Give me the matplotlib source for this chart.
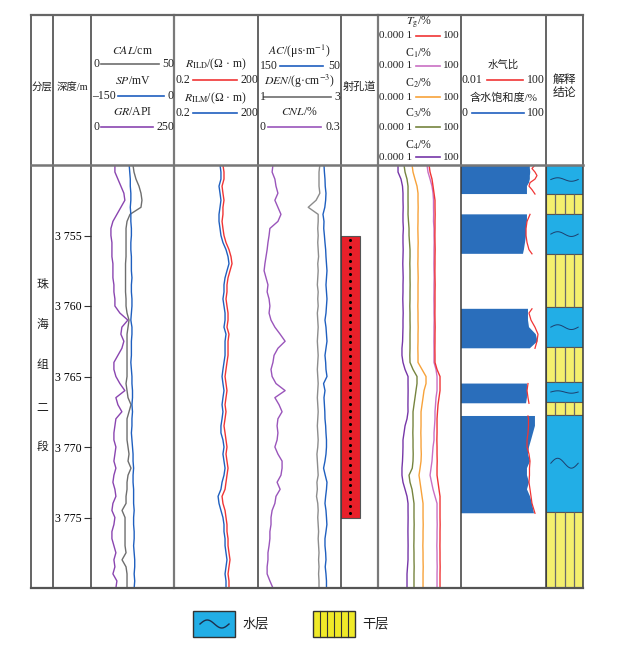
import numpy as np
import matplotlib.pyplot as plt
from matplotlib.patches import Rectangle

plt.rcParams['font.family'] = ['Liberation Serif', 'Noto Sans CJK SC']
plt.rcParams['mathtext.fontset'] = 'stix'

# ---- data (log curves sampled every 0.5 m, 3750-3780 m) ----
cal = [25.3, 25.9, 27.1, 28.9, 30.1, 30.7, 30.1, 23.5, 21.7, 21.1,
       21.1, 21.1, 21.1, 21.1, 20.8, 20.8, 20.8, 20.8, 20.8, 21.1,
       21.1, 21.7, 22.9, 22.3, 21.7, 21.7, 21.7, 21.7, 21.7, 21.7,
       21.7, 21.1, 21.7, 22.3, 24.1, 22.9, 21.7, 21.7, 21.7, 21.7,
       22.3, 22.9, 22.3, 24.1, 22.3, 21.7, 21.7, 21.1, 21.1, 18.7,
       20.5, 20.5, 20.5, 20.5, 20.5, 21.1, 18.7, 21.1, 21.7, 21.7, 21.7]
sp = [-81, -80, -79, -79, -78, -78, -79, -78, -78, -77,
      -77, -78, -78, -77, -77, -77, -76, -77, -77, -76,
      -76, -77, -78, -76, -76, -77, -77, -77, -78, -77,
      -76, -76, -75, -75, -76, -75, -76, -76, -77, -76,
      -75, -74, -74, -73, -74, -74, -73, -73, -73, -72,
      -73, -73, -72, -72, -73, -72, -71, -71, -72, -71, -72]
gr = [72, 72, 81, 90, 99, 102, 90, 78, 66, 60,
      60, 63, 63, 63, 66, 66, 66, 69, 69, 72,
      72, 87, 111, 93, 90, 99, 93, 81, 69, 69,
      75, 87, 102, 75, 81, 93, 75, 72, 69, 69,
      75, 72, 69, 75, 69, 66, 72, 75, 66, 63,
      72, 69, 63, 63, 69, 75, 69, 72, 66, 78, 75]
rlld = [11.2, 12.2, 12.2, 10.4, 11.2, 12.2, 11.2, 11.2, 10.4, 11.2,
        12.2, 14.4, 18.4, 21.7, 23.6, 20.0, 17.0, 15.6, 15.6, 14.4,
        15.6, 17.0, 17.0, 15.6, 18.4, 17.0, 17.0, 17.0, 15.6, 14.4,
        13.3, 14.4, 15.6, 14.4, 13.3, 14.4, 13.3, 12.2, 13.3, 14.4,
        15.6, 14.4, 15.6, 17.0, 15.6, 14.4, 13.3, 10.4, 11.2, 13.3,
        14.4, 15.6, 15.6, 17.0, 17.0, 18.4, 20.0, 18.4, 17.0, 18.4, 18.4]
rllm = [8.8, 9.5, 9.5, 8.1, 8.8, 9.5, 8.8, 8.1, 8.1, 8.8,
        9.5, 11.2, 14.4, 17.0, 18.4, 15.6, 13.3, 12.2, 12.2, 11.2,
        12.2, 13.3, 13.3, 12.2, 14.4, 13.3, 13.3, 13.3, 12.2, 11.2,
        10.4, 11.2, 12.2, 11.2, 10.4, 11.2, 10.4, 9.5, 9.5, 11.2,
        12.2, 11.2, 12.2, 13.3, 12.2, 10.4, 9.5, 7.5, 8.1, 9.5,
        11.2, 12.2, 12.2, 13.3, 13.3, 14.4, 15.6, 14.4, 13.3, 14.4, 14.4]
ac = [70.5, 70.0, 69.3, 69.0, 68.1, 68.5, 69.5, 71.7, 70.5, 70.8,
      70.0, 69.3, 68.5, 68.1, 67.5, 66.9, 67.5, 68.1, 67.5, 66.9,
      67.5, 68.1, 69.3, 68.1, 67.5, 66.9, 68.1, 69.3, 68.5, 68.1,
      66.9, 71.0, 69.3, 70.5, 70.0, 69.5, 69.3, 68.5, 68.1, 67.5,
      67.5, 68.1, 69.3, 71.0, 69.0, 66.9, 67.5, 68.5, 69.3, 68.1,
      67.5, 67.0, 68.1, 69.3, 69.3, 68.5, 68.1, 69.0, 68.1, 67.5, 67.5]
den = [2.49, 2.47, 2.47, 2.47, 2.49, 2.40, 2.21, 2.45, 2.45, 2.44,
       2.45, 2.44, 2.45, 2.46, 2.44, 2.45, 2.44, 2.43, 2.45, 2.44,
       2.45, 2.43, 2.44, 2.45, 2.44, 2.43, 2.44, 2.45, 2.44, 2.43,
       2.44, 2.45, 2.44, 2.43, 2.44, 2.45, 2.44, 2.43, 2.44, 2.45,
       2.44, 2.42, 2.43, 2.44, 2.45, 2.42, 2.43, 2.41, 2.44, 2.45,
       2.44, 2.45, 2.46, 2.45, 2.46, 2.47, 2.46, 2.47, 2.46, 2.47, 2.47]
cnl = [0.054, 0.051, 0.061, 0.065, 0.072, 0.061, 0.072, 0.083, 0.072, 0.043,
       0.040, 0.036, 0.033, 0.029, 0.025, 0.022, 0.029, 0.036, 0.033, 0.040,
       0.043, 0.040, 0.047, 0.061, 0.080, 0.098, 0.072, 0.058, 0.054, 0.047,
       0.051, 0.065, 0.098, 0.061, 0.076, 0.087, 0.072, 0.069, 0.072, 0.069,
       0.061, 0.072, 0.087, 0.087, 0.083, 0.069, 0.080, 0.065, 0.061, 0.051,
       0.047, 0.047, 0.043, 0.043, 0.040, 0.036, 0.036, 0.033, 0.033, 0.043, 0.054]
tg = [0.49, 0.58, 0.80, 0.95, 1.12, 1.32, 1.32, 1.35, 1.32, 1.32,
      1.30, 1.32, 1.35, 1.32, 1.32, 1.30, 1.32, 1.35, 1.32, 1.32,
      1.32, 1.30, 1.32, 1.35, 1.32, 1.32, 1.30, 1.32, 1.32, 1.85,
      3.04, 3.04, 3.04, 2.57, 2.18, 2.00, 1.85, 1.85, 1.85, 1.80,
      1.85, 1.85, 1.90, 1.85, 1.85, 2.18, 2.57, 3.04, 3.04, 3.04,
      3.04, 3.10, 3.04, 3.04, 3.00, 3.04, 3.04, 3.10, 3.04, 3.04, 3.04]
c1 = [0.35, 0.41, 0.58, 0.80, 0.95, 1.03, 1.03, 1.05, 1.03, 1.12,
      1.12, 1.15, 1.12, 1.12, 1.10, 1.12, 1.15, 1.12, 1.12, 1.10,
      1.12, 1.12, 1.15, 1.12, 1.12, 1.10, 1.12, 1.12, 1.12, 1.56,
      1.85, 1.85, 1.85, 1.56, 1.44, 1.32, 1.32, 1.22, 1.12, 1.12,
      0.95, 0.87, 0.80, 0.68, 0.58, 0.74, 0.95, 1.32, 1.85, 1.85,
      1.85, 1.90, 1.85, 1.85, 1.80, 1.85, 1.85, 1.90, 1.85, 1.85, 1.85]
c2 = [0.029, 0.034, 0.047, 0.066, 0.078, 0.078, 0.080, 0.078, 0.078, 0.076,
      0.078, 0.080, 0.078, 0.078, 0.076, 0.078, 0.080, 0.078, 0.078, 0.078,
      0.076, 0.078, 0.078, 0.080, 0.078, 0.078, 0.076, 0.078, 0.078, 0.152,
      0.296, 0.296, 0.212, 0.180, 0.152, 0.129, 0.129, 0.129, 0.125, 0.129,
      0.129, 0.135, 0.129, 0.110, 0.092, 0.109, 0.129, 0.152, 0.180, 0.180,
      0.180, 0.185, 0.180, 0.180, 0.175, 0.180, 0.180, 0.185, 0.180, 0.180, 0.180]
c3 = [0.0076, 0.0090, 0.0125, 0.0148, 0.0148, 0.0148, 0.0150, 0.0148, 0.0160, 0.0175,
      0.0175, 0.0190, 0.0206, 0.0206, 0.0200, 0.0206, 0.0206, 0.0210, 0.0206, 0.0206,
      0.0200, 0.0206, 0.0206, 0.0210, 0.0206, 0.0206, 0.0206, 0.0200, 0.0206, 0.0340,
      0.0660, 0.0660, 0.0557, 0.0473, 0.0400, 0.0340, 0.0340, 0.0340, 0.0330, 0.0340,
      0.0340, 0.0350, 0.0340, 0.0300, 0.0175, 0.0206, 0.0287, 0.0340, 0.0400, 0.0400,
      0.0400, 0.0410, 0.0400, 0.0400, 0.0390, 0.0400, 0.0400, 0.0410, 0.0400, 0.0400, 0.0400]
c4 = [0.0028, 0.0028, 0.0046, 0.0059, 0.0064, 0.0064, 0.0066, 0.0064, 0.0064, 0.0068,
      0.0064, 0.0064, 0.0066, 0.0064, 0.0062, 0.0064, 0.0066, 0.0064, 0.0064, 0.0062,
      0.0064, 0.0066, 0.0064, 0.0064, 0.0062, 0.0060, 0.0054, 0.0054, 0.0064, 0.0090,
      0.0148, 0.0148, 0.0150, 0.0148, 0.0146, 0.0148, 0.0125, 0.0090, 0.0076, 0.0064,
      0.0064, 0.0062, 0.0059, 0.0054, 0.0054, 0.0064, 0.0090, 0.0125, 0.0148, 0.0148,
      0.0150, 0.0148, 0.0146, 0.0148, 0.0150, 0.0148, 0.0148, 0.0136, 0.0125, 0.0125, 0.0125]

nan = np.nan
sw_depth = [3750.0, 3750.25, 3750.5, 3750.75, 3751.0, 3751.25, 3751.5, 3751.75, 3752.06, nan,
            3753.5, 3754.0, 3754.5, 3755.0, 3755.5, 3756.0, 3756.3, nan,
            3760.2, 3760.5, 3761.0, 3761.5, 3762.0, 3762.5, 3763.0, nan,
            3765.5, 3766.0, 3766.5, 3766.9, nan,
            3767.8, 3768.0, 3768.5, 3769.0, 3769.5, 3770.0, 3770.5, 3771.0, 3771.5,
            3772.0, 3772.5, 3773.0, 3773.5, 3774.0, 3774.7]
sw = [81, 81, 81.5, 81, 81, 80, 77.6, 77.6, 77.6, nan,
      77.6, 77.6, 76.5, 76.5, 75.3, 74, 72.9, nan,
      78.8, 78.8, 78.8, 80, 88, 90, 81, nan,
      77.6, 77.6, 77.6, 76.5, nan,
      87, 87, 87, 84.7, 82.4, 80, 78.8, 81.2, 77.6, 77.6, 80, 77.6, 81.2, 83.5, 85.9]
wg_ratio = [30.3, 21.9, 30.3, 37.7, 30.3, 17.7, 15.8, 21.9, 30.3, nan,
            17.7, 12.8, 11.5, 11.5, 12.8, 15.8, 21.9, nan,
            21.9, 15.8, 19.7, 30.3, 42, 37.7, 30.3, nan,
            14.2, 12.8, 14.2, 15.8, nan,
            14.2, 15.0, 15.0, 14.2, 12.8, 12.8, 15.8, 17.7, 16.7, 16.7, 15.8, 17.7, 19.7, 21.9, 30.3]

layer_top = [3750, 3752.06, 3753.5, 3756.3, 3760.1, 3762.9, 3765.4, 3766.8, 3767.7, 3774.6]
layer_bot = [3752.06, 3753.5, 3756.3, 3760.1, 3762.9, 3765.4, 3766.8, 3767.7, 3774.6, 3780]
layer_kind = ['水层', '干层', '水层', '干层', '水层', '干层', '水层', '干层', '水层', '干层']

perf_top, perf_bot = 3755, 3775
depth_ticks = [3755, 3760, 3765, 3770, 3775]
strata = ['珠', '海', '组', '二', '段']
strata_depth = [3758.5, 3761.35, 3764.2, 3767.25, 3770.0]

# colours
C_CAL, C_SP, C_GR = '#6e6e6e', '#1f5fbf', '#8a45b0'
C_RD, C_RM = '#f03535', '#1f5fbf'
C_AC, C_DEN, C_CNL = '#1f5fbf', '#8c8c8c', '#9a55bb'
C_TG, C_C1, C_C2, C_C3, C_C4 = '#f03535', '#c96fc4', '#f7a23a', '#76843e', '#7636a8'
WATER, DRY, SWBLUE = '#22aee6', '#f4ef6e', '#2a6ebb'

# ---- layout (pixels) ----
W, H = 618, 651
TOP, BOT = 3750, 3780
Y0, Y1 = 165, 588
HT = 15
cols = [31, 53, 91, 174, 258, 341, 378, 461, 546, 583]

fig = plt.figure(figsize=(W / 100, H / 100), dpi=100)


def track(x0, x1, xlim=(0, 1), log=False):
    ax = fig.add_axes([x0 / W, 1 - Y1 / H, (x1 - x0) / W, (Y1 - Y0) / H])
    if log:
        ax.set_xscale('log')
    ax.set_xlim(*xlim)
    ax.set_ylim(BOT, TOP)
    ax.patch.set_alpha(0)
    ax.axis('off')
    return ax


lw = 1.0
# track 1: CAL, SP, GR + depth ticks
d = np.linspace(TOP, BOT, len(gr))
ax = fig.add_axes([91 / W, 1 - Y1 / H, 83 / W, (Y1 - Y0) / H])
ax.set_ylim(BOT, TOP)
ax.set_xlim(0, 50)
ax.plot(cal, np.linspace(TOP, BOT, len(cal)), color=C_CAL, lw=lw)
ax.patch.set_alpha(0)
for s in ax.spines.values():
    s.set_visible(False)
ax.set_xticks([])
ax.set_yticks(depth_ticks)
ax.set_yticklabels([f'{t // 1000} {t % 1000}' for t in depth_ticks])
ax.tick_params(axis='y', direction='out', length=5, width=0.8, pad=2,
               labelsize=8.5, color='#333333')
track(91, 174, (-150, 0)).plot(sp, np.linspace(TOP, BOT, len(sp)), color=C_SP, lw=lw)
track(91, 174, (0, 250)).plot(gr, d, color=C_GR, lw=lw)

# track 2: resistivity
track(174, 258, (0.2, 200), log=True).plot(rllm, np.linspace(TOP, BOT, len(rllm)), color=C_RM, lw=lw)
track(174, 258, (0.2, 200), log=True).plot(rlld, np.linspace(TOP, BOT, len(rlld)), color=C_RD, lw=lw)

# track 3: porosity
track(258, 341, (0, 0.3)).plot(cnl, np.linspace(TOP, BOT, len(cnl)), color=C_CNL, lw=lw)
track(258, 341, (1, 3)).plot(den, np.linspace(TOP, BOT, len(den)), color=C_DEN, lw=lw)
track(258, 341, (150, 50)).plot(ac, np.linspace(TOP, BOT, len(ac)), color=C_AC, lw=lw)

# track 4: perforation
ax = track(341, 378)
ax.barh((perf_top + perf_bot) / 2, 0.51, height=perf_bot - perf_top, left=0,
        color='#e8202a', edgecolor='#555555', lw=0.8)
ax.plot(np.full(41, 0.25), np.linspace(perf_top + 0.35, perf_bot - 0.35, 41),
        'o', color='black', ms=2.2, mew=0)

# track 5: gas
for vals, c in [(c4, C_C4), (c3, C_C3), (c2, C_C2), (c1, C_C1), (tg, C_TG)]:
    track(378, 461, (1e-4, 100), log=True).plot(vals, np.linspace(TOP, BOT, len(vals)), color=c, lw=lw)

# track 6: water saturation and water/gas ratio
ax = track(461, 546, (0, 100))
ax.fill_betweenx(sw_depth, 0, sw, color=SWBLUE, lw=0)
track(461, 546, (0.01, 100), log=True).plot(wg_ratio, sw_depth, color='#f03535', lw=0.9)

# track 7: conclusion
ax = track(546, 583)
for t, b, k in zip(layer_top, layer_bot, layer_kind):
    ax.barh((t + b) / 2, 1, height=b - t, left=0, color=WATER if k == '水层' else DRY,
            edgecolor='#555555', lw=0.8)
    if k == '干层':
        ax.vlines([0.25, 0.5, 0.75], t, b, color='#6a6a6a', lw=0.9)
    else:
        tt = np.linspace(0, 2 * np.pi, 60)
        amp = min((b - t) * 0.06, 0.35)
        ax.plot(0.13 + 0.74 * tt / (2 * np.pi), (t + b) / 2 - amp * np.sin(tt),
                color='#1d3f6e', lw=0.7)

# strata column text
ax = track(31, 53)
for s, dd in zip(strata, strata_depth):
    ax.text(0.5, dd, s, ha='center', va='center', fontsize=8.5, color='#222222')

# ---- overlay: table, header, legend ----
ov = fig.add_axes([0, 0, 1, 1])
ov.set_xlim(0, W)
ov.set_ylim(H, 0)
ov.axis('off')
ov.patch.set_alpha(0)
ov.set_zorder(10)

LC = '#3a3a3a'
for x in cols:
    ov.plot([x, x], [HT, Y1], color=LC if x not in (174, 378) else '#7a7a7a',
            lw=1.1 if x not in (174, 378) else 1.6, solid_capstyle='projecting')
ov.plot([31, 583], [HT, HT], color='#666666', lw=1.6)
ov.plot([31, 583], [Y0, Y0], color='#777777', lw=1.8)
ov.plot([31, 583], [Y1, Y1], color='#555555', lw=1.6)

fs = 8.5      # latin header text
fz = 7.5      # chinese header text


def title(x, y, s, size=fs):
    ov.text(x, y, s, ha='center', va='center', fontsize=size, color='#222222')


def scale_row(y, left, right, color, x0, x1, lx, rx, size=fs):
    ov.text(lx, y, left, ha='left', va='center', fontsize=size, color='#222222')
    ov.text(rx, y, right, ha='right', va='center', fontsize=size, color='#222222')
    ov.plot([x0, x1], [y, y], color=color, lw=1.2)


title(42, 87, '分层', fz)
title(72, 87, '深度/m', fz)
title(132.5, 51, r'$\mathit{CAL}$/cm')
scale_row(64, '0', '50', C_CAL, 101, 159, 93, 174)
title(132.5, 81, r'$\mathit{SP}$/mV')
scale_row(96, '–150', '0', C_SP, 118, 164, 92, 174)
title(132.5, 112, r'$\mathit{GR}$/API')
scale_row(127, '0', '250', C_GR, 101, 153, 93, 174)

title(216, 64, r'$R_{\mathrm{ILD}}$/(Ω · m)')
scale_row(80, '0.2', '200', C_RD, 193, 237, 175, 258)
title(216, 98, r'$R_{\mathrm{ILM}}$/(Ω · m)')
scale_row(113, '0.2', '200', C_RM, 193, 237, 175, 258)

title(299.5, 51, r'$\mathit{AC}$/(μs·m$^{-1}$)')
scale_row(66, '150', '50', C_AC, 280, 323, 260, 340)
title(299.5, 81, r'$\mathit{DEN}$/(g·cm$^{-3}$)')
scale_row(97, '1', '3', '#6e6e6e', 264, 331, 260, 340)
title(299.5, 112, r'$\mathit{CNL}$/%')
scale_row(127, '0', '0.3', C_CNL, 268, 321, 260, 340)

title(359.5, 87, '射孔道', 8)

for y_t, y_l, lab, c in [(22, 36, r'$T_{\mathrm{g}}$/%', C_TG), (53, 66, r'C$_1$/%', C_C1),
                         (83, 97, r'C$_2$/%', C_C2), (113, 127, r'C$_3$/%', C_C3),
                         (145, 157, r'C$_4$/%', C_C4)]:
    title(419, y_t, lab)
    scale_row(y_l, '0.000 1', '100', c, 416, 440, 379, 460, size=8)

title(503.5, 65, '水气比', fz)
scale_row(80, '0.01', '100', '#f03535', 487, 523, 462, 545)
title(503.5, 98, '含水饱和度/%', 8)
scale_row(113, '0', '100', C_SP, 472, 524, 462, 545)

title(564.5, 80, '解释', 8.5)
title(564.5, 93, '结论', 8.5)

# legend
ov.add_patch(Rectangle((193, 611), 42, 26, facecolor=WATER, edgecolor='#333333', lw=1.0))
tt = np.linspace(0, 2 * np.pi, 60)
ov.plot(200 + 29 * tt / (2 * np.pi), 624 - 4 * np.sin(tt), color='#1d2f4e', lw=1.0)
ov.text(242, 624, '水层', ha='left', va='center', fontsize=9.5, color='#222222')
ov.add_patch(Rectangle((313, 611), 42, 26, facecolor='#f0ea28', edgecolor='#333333', lw=1.0))
for i in range(1, 6):
    ov.plot([313 + 7 * i, 313 + 7 * i], [611, 637], color='#333333', lw=0.8)
ov.text(362, 624, '干层', ha='left', va='center', fontsize=9.5, color='#222222')

fig.savefig('out.png', dpi=100)
